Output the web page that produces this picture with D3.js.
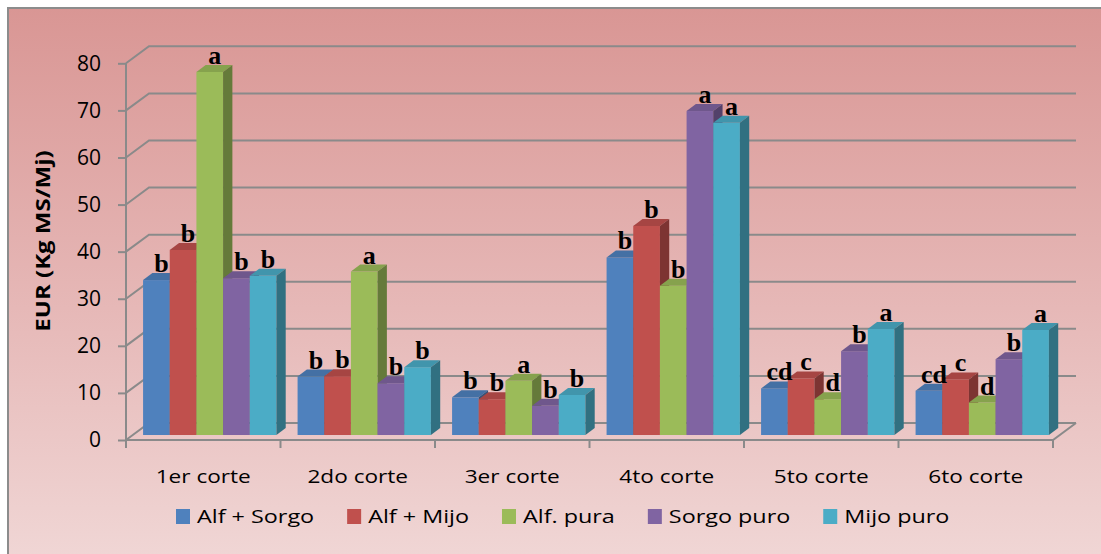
<!DOCTYPE html>
<html>
<head>
<meta charset="utf-8">
<script src="https://cdn.jsdelivr.net/npm/d3@7"></script>
<style>
  html, body { margin: 0; padding: 0; background: #ffffff; }
  svg { display: block; }
</style>
</head>
<body>
<svg id="chart" width="1101" height="554"></svg>
<script>
// ---------- DATA ----------
const categories = ["1er corte", "2do corte", "3er corte", "4to corte", "5to corte", "6to corte"];
const seriesNames = ["Alf + Sorgo", "Alf + Mijo", "Alf. pura", "Sorgo puro", "Mijo puro"];
const alfSorgo  = [32.9, 12.4, 8.0, 37.7, 9.9, 9.4];
const alfMijo   = [39.3, 12.5, 7.6, 44.4, 12.0, 11.8];
const alfPura   = [77.1, 34.7, 11.5, 31.7, 7.6, 6.9];
const sorgoPuro = [33.3, 11.0, 6.2, 68.8, 17.8, 16.1];
const mijoPuro  = [33.8, 14.4, 8.5, 66.3, 22.5, 22.3];
const lblAlfSorgo  = ["b", "b", "b", "b", "cd", "cd"];
const lblAlfMijo   = ["b", "b", "b", "b", "c", "c"];
const lblAlfPura   = ["a", "a", "a", "b", "d", "d"];
const lblSorgoPuro = ["b", "b", "b", "a", "b", "b"];
const lblMijoPuro  = ["b", "b", "b", "a", "a", "a"];
const yTicks = [0, 10, 20, 30, 40, 50, 60, 70, 80];
const yTitle = "EUR (Kg MS/Mj)";
const colors = ["#4f81bd", "#c0504d", "#9bbb59", "#8064a2", "#4bacc6"];

const seriesValues = [alfSorgo, alfMijo, alfPura, sorgoPuro, mijoPuro];
const seriesLabels = [lblAlfSorgo, lblAlfMijo, lblAlfPura, lblSorgoPuro, lblMijoPuro];

// ---------- LAYOUT ----------
const svg = d3.select("#chart");
const X0 = 126, X1 = 1053;
const D = { x: 23, y: -17 };        // depth of back wall
const BO = { x: 6.5, y: -5 };       // bar front plane offset
const BD = { x: 9.3, y: -7 };       // bar depth
const gridColor = "#8a8a8a";

const y = d3.scaleLinear().domain([0, 80]).range([440, 63.3]);
const xb = d3.scaleBand().domain(categories).range([X0, X1])
  .paddingInner(0.137).paddingOuter(0.0685);

// background
const defs = svg.append("defs");
const grad = defs.append("linearGradient").attr("id", "bg")
  .attr("x1", 0).attr("y1", 0).attr("x2", 0).attr("y2", 1);
grad.append("stop").attr("offset", "0%").attr("stop-color", "#d99694");
grad.append("stop").attr("offset", "50%").attr("stop-color", "#e6b8b7");
grad.append("stop").attr("offset", "100%").attr("stop-color", "#f2dcdb");
svg.append("rect").attr("x", 8).attr("y", 8).attr("width", 1200).attr("height", 600)
  .attr("fill", "url(#bg)").attr("stroke", "#8c8c8c").attr("stroke-width", 2);

// gridlines (side wall + back wall)
const grid = svg.append("g").attr("fill", "none").attr("stroke", gridColor).attr("stroke-width", 2);
yTicks.forEach(t => {
  const yy = y(t);
  grid.append("path").attr("d",
    `M${X0},${yy} L${X0 + D.x},${yy + D.y} L${X1 + D.x},${yy + D.y}`);
});
// floor front edge and right edge
grid.append("path").attr("d",
  `M${X0},${y(0)} L${X1},${y(0)} L${X1 + D.x},${y(0) + D.y}`);
// vertical front axis
grid.append("line").attr("x1", X0).attr("x2", X0).attr("y1", y(80)).attr("y2", y(0) + 8);

// y axis ticks + labels
const yAxis = d3.axisLeft(y).tickValues(yTicks).tickSize(8).tickPadding(17);
const yg = svg.append("g").attr("transform", `translate(${X0},0)`).call(yAxis);
yg.select(".domain").remove();
yg.selectAll(".tick line").attr("stroke", gridColor).attr("stroke-width", 2);
yg.selectAll(".tick text").attr("font-family", "'Open Sans', sans-serif")
  .attr("font-size", 21).attr("fill", "#000");

// x axis ticks at band edges
const halfGap = (xb.step() - xb.bandwidth()) / 2;
const edges = categories.map(c => xb(c) - halfGap).concat([X1]);
svg.append("g").selectAll("line").data(edges).join("line")
  .attr("x1", d => d).attr("x2", d => d).attr("y1", y(0)).attr("y2", y(0) + 8)
  .attr("stroke", gridColor).attr("stroke-width", 2);

// category labels
const stretch = 1.19;
const legStretch = 1.23;
svg.append("g").selectAll("text").data(categories).join("text")
  .attr("transform", d => `translate(${xb(d) + xb.bandwidth() / 2},483) scale(${stretch},1)`)
  .attr("text-anchor", "middle")
  .attr("font-family", "'Open Sans', sans-serif").attr("font-size", 19).attr("fill", "#000")
  .text(d => d);

// bars
const bw = xb.bandwidth() / 5;
const barsG = svg.append("g");
const labelData = [];
categories.forEach((c, ci) => {
  seriesValues.forEach((vals, si) => {
    const v = vals[ci];
    const fx = xb(c) + BO.x + si * bw;
    const top = y(v) + BO.y;
    const bot = y(0) + BO.y;
    const col = d3.color(colors[si]);
    const g = barsG.append("g");
    g.append("rect").attr("x", fx).attr("y", top).attr("width", bw).attr("height", bot - top)
      .attr("fill", colors[si]);
    g.append("path").attr("d",
      `M${fx},${top} L${fx + bw},${top} L${fx + bw + BD.x},${top + BD.y} L${fx + BD.x},${top + BD.y} Z`)
      .attr("fill", col.darker(0.4));
    g.append("path").attr("d",
      `M${fx + bw},${top} L${fx + bw + BD.x},${top + BD.y} L${fx + bw + BD.x},${bot + BD.y} L${fx + bw},${bot} Z`)
      .attr("fill", col.darker(1.2));
    labelData.push({ x: fx + bw / 2 + 5, y: top - 8, t: seriesLabels[si][ci] });
  });
});

// significance letters
svg.append("g").selectAll("text").data(labelData).join("text")
  .attr("x", d => d.x).attr("y", d => d.y)
  .attr("text-anchor", "middle")
  .attr("font-family", "'Liberation Serif', 'Times New Roman', serif")
  .attr("font-weight", "bold").attr("font-size", 26).attr("fill", "#000")
  .text(d => d.t);

// y axis title
svg.append("text")
  .attr("transform", `translate(50,241) rotate(-90) scale(1.2,1)`)
  .attr("text-anchor", "middle")
  .attr("font-family", "'Open Sans', sans-serif").attr("font-weight", "bold")
  .attr("font-size", 20).attr("fill", "#000")
  .text(yTitle);

// legend
const leg = svg.append("g");
let lx = 176;
seriesNames.forEach((name, si) => {
  leg.append("rect").attr("x", lx).attr("y", 509).attr("width", 14).attr("height", 15)
    .attr("fill", colors[si]);
  const t = leg.append("text")
    .attr("transform", `translate(${lx + 21},523) scale(${legStretch},1)`)
    .attr("font-family", "'Open Sans', sans-serif").attr("font-size", 19).attr("fill", "#000")
    .text(name);
  const w = t.node().getComputedTextLength() * legStretch;
  lx += 21 + w + 33;
});
</script>
</body>
</html>
